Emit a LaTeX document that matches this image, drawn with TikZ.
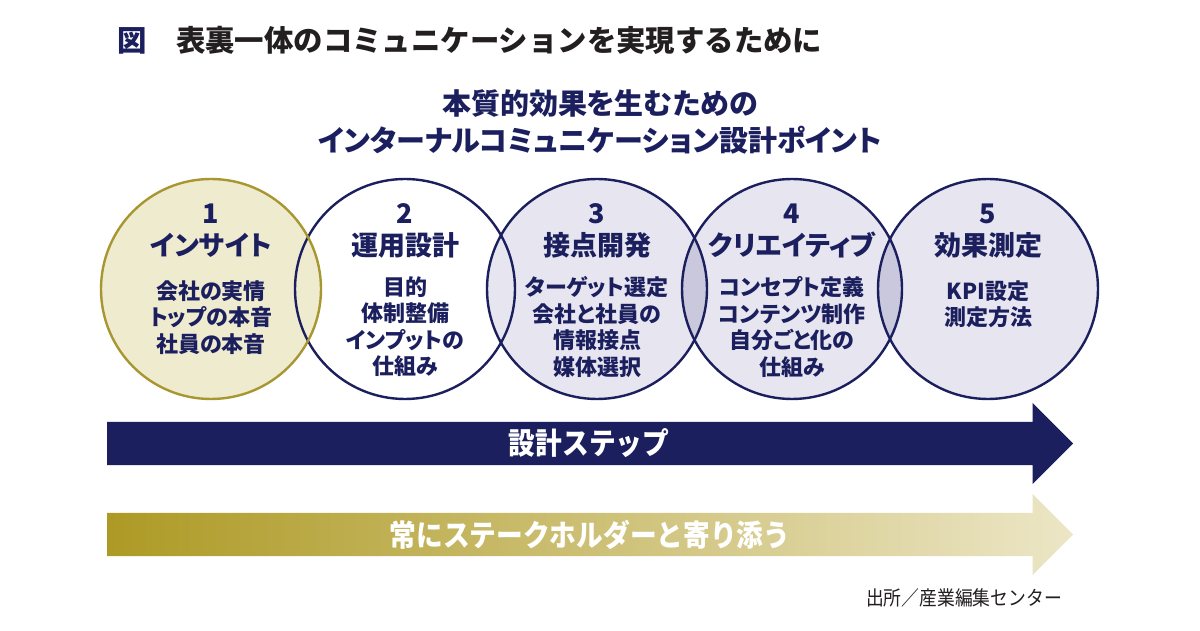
\documentclass[tikz,border=0pt]{standalone}
\usepackage{fontspec}
\setmainfont{Noto Sans CJK JP}[RawFeature=+palt]
\newfontfamily\plainjp{Noto Sans CJK JP}
\usepackage{xcolor}
\usepackage{graphicx}
\usepackage{tikz}
\usetikzlibrary{shapes.arrows, positioning}
\definecolor{stepnavy}{RGB}{27,31,94}
\definecolor{insightline}{RGB}{168,150,48}
\definecolor{insightfill}{RGB}{239,235,207}
\definecolor{stepfill}{RGB}{231,230,240}
\definecolor{overlapfill}{RGB}{202,200,220}
\definecolor{goldleft}{RGB}{173,154,37}
\definecolor{goldright}{RGB}{236,230,198}
\definecolor{titleblack}{RGB}{35,31,32}

\begin{document}
\begin{tikzpicture}[x=1pt, y=1pt,
    stepcircle/.style={circle, minimum size=220pt, inner sep=0pt},
    ringline/.style={line width=2.4pt},
    numtext/.style={font=\bfseries\fontsize{27}{30}\selectfont, text=stepnavy},
    headtext/.style={font=\bfseries\fontsize{27}{30}\selectfont, text=stepnavy},
    bodytext/.style={anchor=north, align=center, font=\bfseries\fontsize{22}{26.5}\selectfont, text=stepnavy},
    bandarrow/.style={single arrow, anchor=tail, minimum height=966pt, minimum width=81pt,
        single arrow head extend=19pt, inner sep=0pt},
    bandtext/.style={text=white, font=\plainjp\bfseries\fontsize{30}{32}\selectfont}]
    \useasboundingbox (0,0) rectangle (1200,630);
    \fill[white] (0,0) rectangle (1200,630);

    % Title
    \node[anchor=west, inner sep=0pt, font=\plainjp\bfseries\fontsize{29.4}{32}\selectfont, text=titleblack] (title) at (117,590)
        {{\color{stepnavy}図}　表裏一体のコミュニケーションを実現するために};
    \node[align=center, font=\bfseries\fontsize{29}{37}\selectfont, text=stepnavy] (subtitle) at (600,508.5)
        {本質的効果を生むための\\インターナルコミュニケーション設計ポイント};

    % Circles
    \node[stepcircle, fill=white] (c2) at (405,341) {};
    \node[stepcircle, fill=insightfill] (c1) at (211,341) {};
    \node[stepcircle, fill=stepfill] (c3) at (597,341) {};
    \node[stepcircle, fill=stepfill] (c4) at (792,341) {};
    \node[stepcircle, fill=stepfill] (c5) at (988,341) {};
    \begin{scope}
        \clip (c3.center) circle[radius=110pt];
        \fill[overlapfill] (c4.center) circle[radius=110pt];
    \end{scope}
    \begin{scope}
        \clip (c4.center) circle[radius=110pt];
        \fill[overlapfill] (c5.center) circle[radius=110pt];
    \end{scope}
    \draw[ringline, stepnavy] (c2.center) circle[radius=110pt];
    \draw[ringline, stepnavy] (c3.center) circle[radius=110pt];
    \draw[ringline, stepnavy] (c4.center) circle[radius=110pt];
    \draw[ringline, stepnavy] (c5.center) circle[radius=110pt];
    \draw[ringline, insightline] (c1.center) circle[radius=110pt];

    % Step 1
    \node[numtext] (n1) at (211,416) {1};
    \node[headtext] (h1) at (211,385) {インサイト};
    \node[bodytext] (b1) at (211,353) {会社の実情\\トップの本音\\社員の本音};

    % Step 2
    \node[numtext] (n2) at (405,416) {2};
    \node[headtext] (h2) at (405,385) {運用設計};
    \node[bodytext] (b2) at (405,357) {目的\\体制整備\\インプットの\\仕組み};

    % Step 3
    \node[numtext] (n3) at (597,416) {3};
    \node[headtext] (h3) at (597,385) {接点開発};
    \node[bodytext] (b3) at (597,357) {ターゲット選定\\会社と社員の\\情報接点\\媒体選択};

    % Step 4
    \node[numtext] (n4) at (792,416) {4};
    \node[headtext] (h4) at (792,385) {クリエイティブ};
    \node[bodytext] (b4) at (792,357) {コンセプト定義\\コンテンツ制作\\自分ごと化の\\仕組み};

    % Step 5
    \node[numtext] (n5) at (988,416) {5};
    \node[headtext] (h5) at (988,385) {効果測定};
    \node[bodytext] (b5) at (988,353) {KPI設定\\測定方法};

    % Arrows
    \node[bandarrow, fill=stepnavy] (steps) at (107,186.5) {\rule{0pt}{43pt}};
    \node[bandtext] (stepslabel) at (589,186.5) {\scalebox{0.89}[1]{設計ステップ}};
    \node[bandarrow, left color=goldleft, right color=goldright] (stake) at (107,95.5) {\rule{0pt}{43pt}};
    \node[bandtext] (stakelabel) at (590,95.5) {\scalebox{0.89}[1]{常にステークホルダーと寄り添う}};

    % Source
    \node[anchor=east, inner sep=0pt, font=\plainjp\fontsize{20}{22}\selectfont, text=titleblack] (source) at (1062,32)
        {\scalebox{0.89}[1]{出所／産業編集センター}};
\end{tikzpicture}
\end{document}
